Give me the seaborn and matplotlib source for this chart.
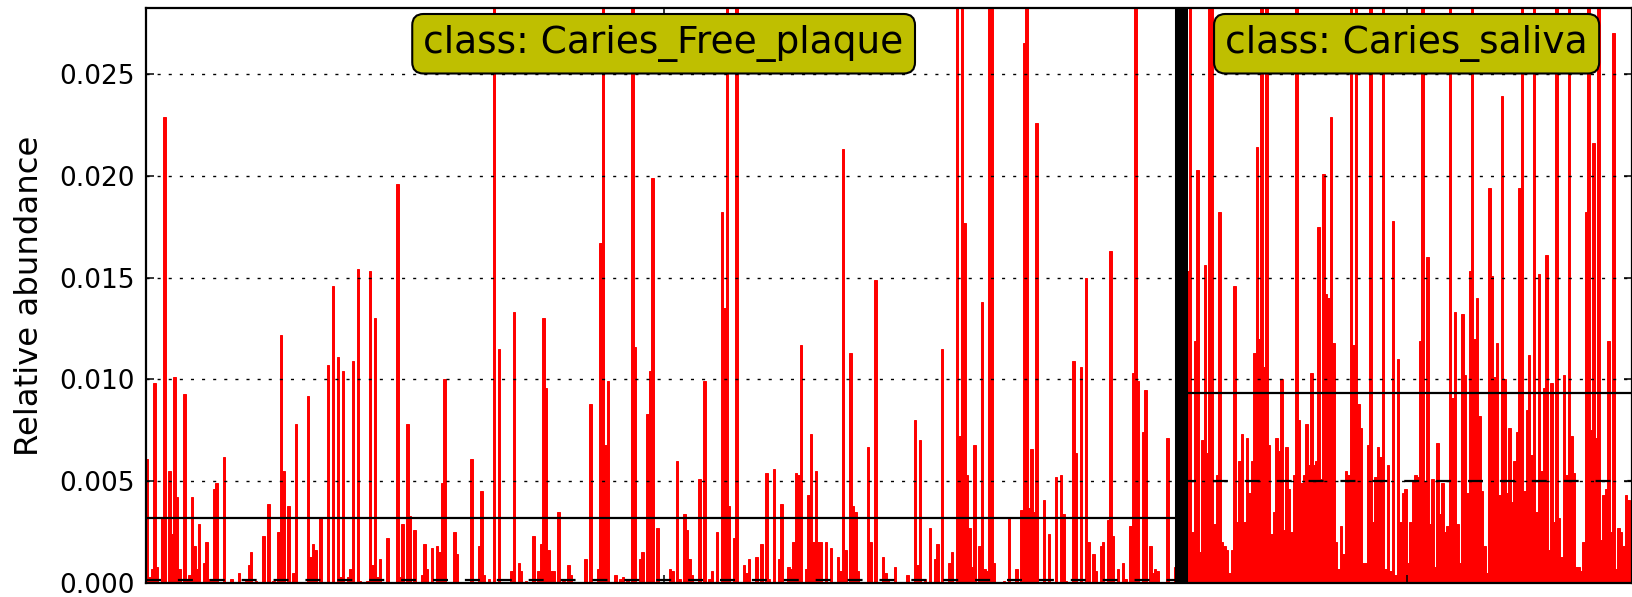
import numpy as np
import pandas as pd
import matplotlib
matplotlib.use("Agg")
import matplotlib.pyplot as plt
import matplotlib.transforms as mtransforms
from matplotlib.ticker import FormatStrFormatter
import seaborn as sns

# --- relative abundance per sample, in units of 1e-3 (values > 0.028 run off the top) ---
free_plaque = [
    6.1, 0.3, 0.7, 9.8, 0.8, 0, 3.2, 22.9, 0, 5.5, 2.4, 10.1, 4.2, 0.7, 0, 9.3, 0.2, 0.4, 4.2, 1.8,
    0.7, 2.9, 0, 1.0, 2.0, 0.2, 0.1, 4.6, 4.9, 0, 0, 6.2, 0, 0, 0.2, 0, 0, 0.5, 0, 0,
    0.1, 0.9, 1.5, 0, 0.1, 0, 0, 2.3, 0, 3.9, 0, 0.1, 0, 2.5, 12.2, 5.5, 0, 3.8, 0, 0.5,
    7.8, 0, 0, 0, 0, 9.2, 1.3, 1.9, 1.6, 0, 3.2, 0, 0, 10.7, 0, 14.6, 0, 11.1, 0.3, 10.4,
    0, 0.3, 0.7, 10.9, 0, 15.4, 0.1, 0, 0, 0.1, 15.3, 0.9, 13.0, 0.3, 1.2, 0, 0, 2.2, 0, 0,
    0, 19.6, 0.3, 2.9, 0, 7.8, 3.3, 0, 2.6, 0, 0, 0.4, 1.9, 0.7, 0, 1.7, 0, 1.8, 1.5, 4.9,
    10.0, 0, 0, 0, 2.5, 1.4, 0, 0, 0, 0, 0, 6.1, 0, 0, 1.8, 4.5, 0.4, 0, 0.2, 0,
    35, 0, 11.5, 0, 0, 0, 0, 0.6, 13.3, 0, 1.0, 0.6, 0, 0.1, 0, 0, 2.3, 0, 0.6, 1.9,
    13.0, 9.6, 1.6, 0.6, 0.6, 0, 3.5, 0, 0.1, 0, 0.9, 0.4, 0, 0, 0, 0, 0, 1.2, 0, 8.8,
    0, 0, 0.7, 16.7, 30, 6.8, 9.9, 0, 0, 0.4, 0, 0.2, 0.3, 0, 0.2, 0, 30, 11.6, 0, 1.2,
    1.5, 0, 8.3, 10.4, 19.9, 0, 2.7, 0, 0, 0, 0, 0.7, 0.6, 0, 6.0, 0.2, 0, 3.4, 2.6, 1.2,
    0.4, 0, 0, 5.1, 0, 9.9, 0, 0.2, 0.6, 0, 2.5, 0, 18.2, 13.5, 30, 3.8, 0, 2.2, 30, 0,
    0, 0.9, 0.5, 1.2, 0, 0, 1.3, 0, 1.9, 0, 5.4, 0.2, 0, 5.6, 0, 1.2, 3.9, 0, 0, 0.8,
    0.7, 2.0, 5.4, 5.3, 11.7, 0, 0.7, 4.3, 7.3, 2.0, 5.5, 2.0, 2.0, 0, 2.0, 0, 1.7, 0, 0, 1.3,
    0.6, 21.3, 1.6, 0, 11.3, 3.8, 3.5, 0.6, 0, 0, 0, 6.7, 2.0, 0, 14.9, 0, 0, 1.3, 0.5, 0.2,
    0, 0, 0.8, 0, 0, 0, 0, 0.4, 0, 0, 8.0, 0.9, 7.0, 0, 0.2, 0, 2.7, 0, 1.2, 1.9,
    0, 11.5, 0, 0, 1.0, 1.5, 0, 30, 7.2, 30, 17.7, 5.3, 2.7, 0.8, 6.8, 0, 1.8, 13.8, 0.7, 0.6,
    30, 30, 1.0, 0, 0, 0, 0.1, 0, 3.2, 0, 0, 0.7, 0, 3.6, 26.5, 30, 3.7, 6.6, 3.5, 22.6,
    0, 0, 4.1, 0, 2.4, 0, 0, 5.2, 0, 5.3, 3.4, 0.1, 0, 0, 10.9, 6.4, 0, 10.6, 0, 15.0,
    2.0, 0, 1.4, 0.6, 0, 1.8, 2.0, 0, 3.1, 16.3, 2.3, 0, 0.7, 0, 1.0, 0.2, 0, 2.8, 10.3, 30,
    9.9, 0, 7.4, 9.5, 0, 1.8, 0.5, 0.7, 0.6, 0, 0, 0, 7.1, 0, 0, 0.8, 0, 0,
]

saliva = [
    5.0, 14.0,
    15.3, 30, 2.5, 11.9, 20.3, 1.5, 7.0, 15.6, 6.4, 30,
    30, 2.9, 5.3, 18.2, 2.0, 1.8, 1.6, 0.5,
    1.6, 14.6, 3.0, 6.0, 7.3, 3.0, 7.1, 4.4, 6.0, 11.3,
    21.4, 12.0, 30, 10.6, 30, 6.8, 2.4, 3.5, 7.1, 6.5,
    10.0, 2.6, 6.7, 4.6, 2.5, 5.3, 30, 8.0, 4.9,
    5.3, 7.8, 5.8, 10.3, 5.8, 6.0, 17.5, 5.1, 20.1, 14.2,
    14.0, 22.9, 11.8, 2.0, 0.7, 2.8, 1.4, 5.5, 5.3,
    30, 11.7, 30, 8.8, 7.6, 1.0, 1.0, 6.8, 30, 3.0,
    5.2, 6.7, 6.2, 30, 0.7, 5.8, 0.6, 17.8, 0.4,
    11.0, 3.0, 4.4, 4.6, 1.0, 3.0, 5.0, 5.3, 5.2, 11.9,
    30, 5.0, 16.0, 2.9, 5.1, 0.8, 6.9, 3.4, 4.9,
    2.5, 2.8, 30, 9.1, 13.3, 2.9, 1.0, 13.2, 10.2,
    4.4, 15.3, 30, 12.0, 14.0, 8.2, 4.5, 1.8, 0.5,
    19.4, 15.1, 10.1, 11.8, 4.3, 23.9, 10.0, 4.4, 7.6,
    4.0, 6.0, 7.4, 19.4, 30, 4.5, 8.5, 11.2, 6.3,
    30, 3.5, 15.2, 5.5, 9.6, 16.1, 1.6, 9.8, 3.0,
    30, 3.2, 1.3, 10.2, 5.3, 30, 7.2, 5.4, 0.8,
    0.8, 0.6, 2.0, 18.2, 30, 7.5, 21.6, 7.1, 30, 2.1,
    4.3, 4.6, 11.9, 2.5, 27.0, 0.7, 2.7, 2.5,
    1.8, 4.3, 4.1, 3.2,
]

class_names = ['Caries_Free_plaque', 'Caries_saliva']
class_means = [3.21, 9.35]      # 1e-3, solid lines
class_medians = [0.15, 5.0]     # 1e-3, dashed lines
y_ticks = [0.000, 0.005, 0.010, 0.015, 0.020, 0.025]

groups = [free_plaque, saliva]
vals = np.array(free_plaque + saliva) * 1e-3
n = len(vals)
df = pd.DataFrame({'sample': np.arange(n), 'abundance': vals})

# --- FIGURE ---
fig = plt.figure(figsize=(16.33, 5.97), dpi=100)
ax = fig.add_axes([146 / 1633, 14 / 597, 1486 / 1633, 575 / 597])

sns.barplot(data=df, x='sample', y='abundance', native_scale=True, width=1,
            color='red', saturation=1, linewidth=0.7, edgecolor='red',
            errorbar=None, ax=ax)

ax.set_xlim(-0.5, n - 0.5)
ax.set_ylim(0, 0.02824)

# mean / median lines + class labels
start = -0.5
centers = []
for name, g, m, med in zip(class_names, groups, class_means, class_medians):
    end = start + len(g)
    ax.plot([start, end], [m * 1e-3] * 2, color='k', lw=1.6, zorder=4)
    ax.plot([start, end], [med * 1e-3] * 2, color='k', lw=1.6,
            linestyle=(0, (6.75, 7.6)), zorder=4)
    c = (start + end) / 2
    centers.append(c)
    trans = mtransforms.blended_transform_factory(ax.transData, ax.transAxes)
    ax.text(c, 0.970, 'class: ' + name, transform=trans, ha='center', va='top',
            fontsize=27, zorder=6,
            bbox=dict(boxstyle='round,pad=0.3', fc=(0.75, 0.75, 0), ec='k', lw=1.5))
    start = end

# thick separator between classes
ax.axvline(len(free_plaque) - 0.5, color='k', lw=9.4, zorder=5)

ax.yaxis.grid(True, color='k', linestyle=(0, (2.2, 5.8)), linewidth=1.0)
ax.set_axisbelow(False)

ax.set_xticks(centers)
ax.set_xticklabels([])
ax.set_xlabel('')
ax.set_yticks(y_ticks)
ax.yaxis.set_major_formatter(FormatStrFormatter('%.3f'))
ax.tick_params(direction='in', top=True, right=True, length=6, width=1.1,
               labelsize=19, pad=8)
for sp in ax.spines.values():
    sp.set_linewidth(1.6)

ax.set_ylabel('Relative abundance', fontsize=23.3)
ax.yaxis.set_label_coords(-0.068, 0.5)

fig.savefig('out.png', dpi=100)
